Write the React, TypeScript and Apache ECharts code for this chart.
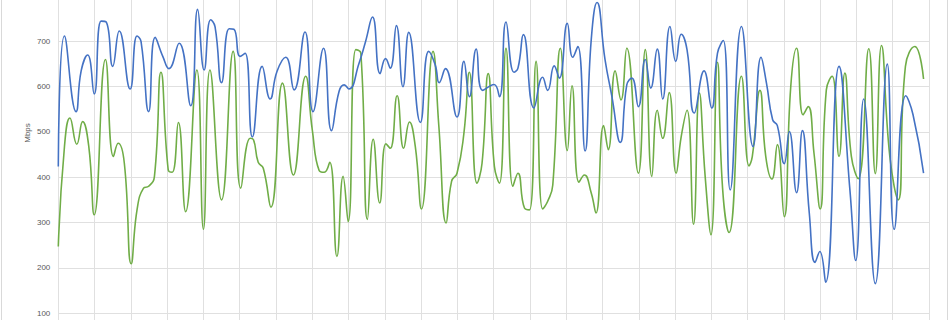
import React, { useEffect, useRef } from "react";
import * as echarts from "echarts";

// Time of each sample, in days from the start of the axis (24 days shown)
const blueTimes = [
  0.0, 0.17, 0.49, 0.63, 0.81, 0.99, 1.18, 1.32, 1.5, 1.68, 1.98, 2.17, 2.28, 2.49, 2.67, 2.88,
  3.05, 3.33, 3.65, 3.84, 4.02, 4.2, 4.32, 4.5, 4.71, 4.84, 5.01, 5.15, 5.35, 5.62, 5.84,
  6.03, 6.27, 6.5, 6.8, 7.02, 7.31, 7.53, 7.74, 7.88, 8.01, 8.29, 8.47, 8.66, 8.87,
  9.02, 9.15, 9.32, 9.5, 9.66, 9.98, 10.21, 10.39, 10.5, 10.67, 10.99, 11.18, 11.33, 11.52, 11.7,
  12.01, 12.16, 12.34, 12.56, 12.67, 12.82, 13.11, 13.35, 13.49, 13.67, 13.81, 14.03, 14.18, 14.32,
  14.52, 14.69, 14.85, 15.07, 15.26, 15.49, 15.67, 15.81, 15.99, 16.18, 16.33, 16.51, 16.66, 16.86,
  17.02, 17.17, 17.33, 17.53, 17.8, 18.01, 18.17, 18.33, 18.52, 18.83, 19.15, 19.37, 19.52, 19.69,
  19.82, 20.01, 20.15, 20.35, 20.51, 20.7, 20.86, 20.99, 21.15, 21.52, 21.82, 21.98, 22.2, 22.52,
  22.85, 23.04, 23.36, 23.56, 23.85,
];
const blueValues = [
  424, 712, 545, 635, 670, 584, 745, 743, 645, 723, 595, 712, 700, 545, 709, 667,
  640, 696, 558, 771, 637, 748, 733, 609, 728, 727, 667, 674, 489, 645, 573,
  634, 665, 593, 721, 545, 685, 503, 590, 604, 595, 652, 700, 754, 629,
  662, 641, 735, 600, 720, 521, 678, 648, 609, 640, 533, 656, 578, 683, 592,
  605, 578, 743, 632, 641, 715, 553, 621, 592, 646, 619, 740, 665, 689,
  458, 704, 786, 660, 578, 477, 604, 619, 556, 660, 597, 683, 573, 733,
  656, 716, 682, 542, 635, 553, 674, 702, 372, 733, 468, 665, 608, 527,
  514, 430, 501, 366, 503, 321, 212, 236, 168, 645, 372, 216, 573, 165,
  650, 285, 580, 538, 409,
];

const greenTimes = [
  0.0, 0.17, 0.32, 0.51, 0.67, 0.84, 0.99, 1.3, 1.52, 1.65, 1.82, 2.01, 2.17, 2.35, 2.49, 2.65,
  2.83, 3.03, 3.14, 3.31, 3.51, 3.82, 4.0, 4.18, 4.5, 4.82, 5.03, 5.29, 5.38, 5.51, 5.65, 5.86,
  6.18, 6.48, 6.82, 7.0, 7.19, 7.33, 7.48, 7.68, 7.85, 7.99, 8.2, 8.34, 8.52, 8.68, 8.86,
  9.03, 9.15, 9.34, 9.52, 9.68, 9.84, 10.01, 10.33, 10.49, 10.69, 10.84, 10.99, 11.18, 11.33,
  11.54, 11.68, 11.85, 12.02, 12.16, 12.34, 12.53, 12.67, 12.85, 12.99, 13.17, 13.35, 13.49,
  13.63, 13.84, 14.03, 14.16, 14.35, 14.5, 14.69, 14.82, 15.03, 15.16, 15.35, 15.51, 15.67,
  15.99, 16.18, 16.36, 16.51, 16.66, 16.84, 17.03, 17.17, 17.33, 17.51, 17.67, 17.83, 17.99,
  18.17, 18.31, 18.49, 18.83, 19.04, 19.13, 19.34, 19.5, 19.67, 19.82, 20.01, 20.19, 20.35,
  20.53, 20.67, 20.83, 21.0, 21.17, 21.33, 21.52, 21.68, 21.86, 22.05, 22.34, 22.52, 22.69,
  22.92, 23.15, 23.35, 23.61, 23.85,
];
const greenValues = [
  247, 468, 531, 473, 523, 468, 317, 660, 446, 475, 431, 209, 328, 376, 380, 402,
  632, 416, 411, 521, 324, 637, 285, 637, 350, 678, 376, 486, 483, 433, 420, 334,
  608, 405, 623, 505, 415, 411, 433, 225, 402, 302, 682, 674, 307, 484, 343,
  474, 464, 580, 464, 522, 468, 330, 678, 512, 299, 391, 409, 497, 632,
  387, 431, 629, 424, 387, 685, 380, 409, 332, 328, 656, 330, 347,
  383, 685, 459, 602, 389, 405, 365, 321, 514, 461, 635, 571, 685,
  409, 682, 402, 548, 486, 587, 409, 490, 548, 296, 586, 402, 273,
  654, 376, 278, 623, 425, 446, 592, 446, 396, 472, 313, 601, 685,
  538, 556, 453, 330, 593, 623, 446, 630, 446, 397, 684, 408, 691,
  446, 350, 645, 689, 617,
];

const yMin = 0;
const yMax = 800;
const yStep = 100;
const axisTitle = "Mbps";

const zip = (t: number[], v: number[]) => t.map((x, i) => [x, v[i]]);

// The chart is taller than the window and shifted up, so only part of it shows
const OFFSET = 20;

export default function App() {
  const ref = useRef<HTMLDivElement>(null);
  useEffect(() => {
    if (!ref.current) return;
    const chart = echarts.init(ref.current, null, { renderer: "svg" });
    const grid = "#e0e0e0";
    chart.setOption({
      animation: false,
      backgroundColor: "#ffffff",
      grid: { left: 58.3, right: 21, top: 16.2, bottom: 21.7, containLabel: false },
      xAxis: {
        type: "value",
        min: 0,
        max: 24,
        interval: 1,
        axisLabel: { show: false },
        axisTick: { show: false },
        axisLine: { show: false },
        splitLine: { show: true, lineStyle: { color: grid, width: 1 } },
      },
      yAxis: {
        type: "value",
        min: yMin,
        max: yMax,
        interval: yStep,
        axisLine: { show: false },
        axisTick: { show: false },
        axisLabel: {
          showMaxLabel: false,
          showMinLabel: false,
          color: "#595959",
          fontSize: 8,
          fontFamily: "Liberation Sans",
          margin: 8,
        },
        splitLine: { show: true, lineStyle: { color: grid, width: 1 } },
      },
      graphic: [
        {
          type: "rect",
          shape: { x: 1.5, y: 0, width: 946, height: 420 },
          style: { fill: "none", stroke: "#d9d9d9", lineWidth: 1 },
          silent: true,
        },
        {
          type: "text",
          x: 27,
          y: 133 + OFFSET,
          rotation: Math.PI / 2,
          style: {
            text: axisTitle,
            fill: "#595959",
            fontSize: 8,
            fontFamily: "Liberation Sans",
            align: "center",
            verticalAlign: "middle",
          },
        },
      ],
      series: [
        {
          type: "line",
          data: zip(blueTimes, blueValues),
          smooth: 0.5,
          symbol: "none",
          lineStyle: { color: "#4472C4", width: 1.6 },
          z: 3,
        },
        {
          type: "line",
          data: zip(greenTimes, greenValues),
          smooth: 0.5,
          symbol: "none",
          lineStyle: { color: "#70AD47", width: 1.6 },
          z: 2,
        },
      ],
    });
    return () => chart.dispose();
  }, []);
  return (
    <div
      ref={ref}
      style={{ position: "fixed", left: 0, top: -OFFSET, width: 950, height: 400 }}
    />
  );
}
